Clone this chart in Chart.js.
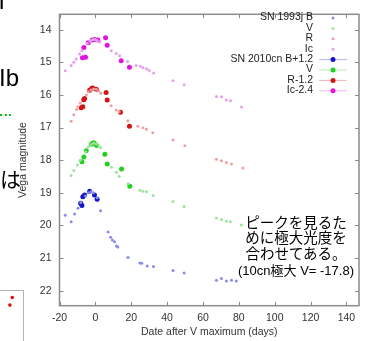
<!DOCTYPE html>
<html>
<head>
<meta charset="utf-8">
<script src="https://cdn.jsdelivr.net/npm/chart.js@4.4.1/dist/chart.umd.min.js"></script>
<style>
  html, body { margin: 0; padding: 0; background: #fff; }
  body { width: 370px; height: 341px; position: relative; overflow: hidden; font-family: "Liberation Sans", Arial, sans-serif; }
  #lc { position: absolute; left: 0; top: 0; }
  .frag { position: absolute; color: #000; white-space: nowrap; font-size: 24px; line-height: 24px; }
  #note { position: absolute; left: 236px; top: 213.5px; width: 120px; text-align: center; color: #000;
          font-family: "Noto Sans CJK JP", sans-serif; font-size: 14.5px; line-height: 15.8px; }
  #note .small { font-family: "Liberation Sans", "Noto Sans CJK JP", sans-serif; font-size: 13px; }
  #dots { position: absolute; left: 0; top: 114px; width: 11px; border-top: 2px dotted #10c010; }
  #inset { position: absolute; left: -1px; top: 290px; width: 23px; height: 60px; border: 1px solid #b4b4b4; }
</style>
</head>
<body>
<canvas id="lc" width="370" height="341"></canvas>
<div class="frag" style="left:-1px; top:-11px;">l</div>
<div class="frag" style="left:-1px; top:66px;">Ib</div>
<div id="dots"></div>
<div class="frag" style="left:0; top:168px; font-family:'Noto Sans CJK JP'; font-size:21px; line-height:21px;">は</div>
<div id="inset"><canvas id="mini" width="23" height="51"></canvas></div>
<div id="note">ピークを見るた<br>めに極大光度を<br>合わせてある。<br><span class="small">(10cn極大 V= -17.8)</span></div>
<script>
// SN 1993J (small pale points)
const b93Day = [-16.8, -13.5, -11.6, -9.7, -8.2, -5.5, -4, -2.5, -1, 1, 2.9, 7.1, 8.5, 9.5, 10.7, 11.8, 12.5, 18.2, 24.8, 25.9, 28.9, 32.4, 43.3, 49.5, 67.5, 70.3, 73.1, 75.9, 78.6];
const b93Mag = [19.69, 19.89, 19.65, 19.47, 19.3, 19.1, 19.0, 18.97, 19.0, 19.15, 19.55, 20.2, 20.36, 20.45, 20.5, 20.63, 20.66, 20.98, 21.15, 21.16, 21.24, 21.26, 21.38, 21.46, 21.68, 21.63, 21.7, 21.68, 21.7];
const v93Day = [-13.5, -12, -10, -8.5, -5.5, -4, -2.5, -1, 0.5, 2, 3, 9, 11.8, 13.3, 18.3, 24.8, 26.5, 28.5, 32.2, 43.3, 49.5, 67.5, 70.3, 73.1, 75.3, 81.4];
const v93Mag = [18.47, 18.32, 18.15, 18.0, 17.75, 17.6, 17.52, 17.48, 17.5, 17.56, 17.62, 18.22, 18.37, 18.5, 18.72, 18.92, 18.95, 18.97, 19.08, 19.27, 19.42, 19.77, 19.82, 19.87, 19.89, 19.99];
const r93Day = [-13.5, -12, -10.5, -9.7, -8.5, -5, -4, -2.5, -1, 0.5, 2, 3, 8.8, 11.6, 13.3, 18.1, 23.7, 26.5, 28.5, 32, 43.3, 49.9, 67.5, 70.3, 73.1, 75.9, 82.3];
const r93Mag = [16.81, 16.61, 16.45, 16.36, 16.25, 16.0, 15.9, 15.85, 15.82, 15.83, 15.88, 15.95, 16.33, 16.46, 16.52, 16.79, 16.96, 17.01, 17.05, 17.16, 17.38, 17.56, 17.97, 18.02, 18.07, 18.12, 18.24];
const i93Day = [-16.8, -13.5, -12, -10.7, -8.8, -7.5, -4.5, -3, -2, -1, 0, 1, 2.5, 8.8, 11.6, 13.5, 18, 22.7, 25, 26.5, 28.5, 30, 32.5, 43.3, 49.5, 67.5, 70.3, 73, 75.3, 81.5];
const i93Mag = [15.26, 15.1, 15.0, 14.9, 14.75, 14.65, 14.42, 14.35, 14.32, 14.3, 14.3, 14.33, 14.38, 14.65, 14.73, 14.8, 14.98, 15.1, 15.12, 15.17, 15.2, 15.25, 15.33, 15.57, 15.69, 16.05, 16.06, 16.16, 16.18, 16.37];

// SN 2010cn (shifted: B+1.2, V, R-1.2, Ic-2.4)
const cnBDay = [-8.2, -7.5, -7, -6, -3.2, -0.5, 1];
const cnBMag = [19.32, 19.39, 19.12, 19.07, 18.95, 19.07, 19.2];
const cnVDay = [-7.5, -6.4, -5.1, -2.3, -1.2, -0.4, 0.7, 5.3, 6.6, 14.6, 19.2];
const cnVMag = [18.05, 17.9, 17.71, 17.51, 17.47, 17.49, 17.55, 17.82, 18.12, 18.27, 18.8];
const cnRDay = [-7.9, -7, -6.5, -6, -3.2, -2, -1.4, 0.5, 6, 6.6, 14, 19];
const cnRMag = [16.39, 16.36, 16.15, 16.11, 15.86, 15.8, 15.79, 15.83, 15.93, 16.16, 16.53, 16.96];
const cnIDay = [-7.2, -5.5, -6.4, -4, -1.8, -0.3, 1.4, 5.7, 6.6, 14.4, 19];
const cnIMag = [14.86, 14.85, 14.55, 14.4, 14.32, 14.3, 14.32, 14.25, 14.48, 14.95, 15.15];

const xTicks = [-20, 0, 20, 40, 60, 80, 100, 120, 140];
const yTicks = [14, 15, 16, 17, 18, 19, 20, 21, 22];

// tiny inset fragment at bottom-left
const insetX = [12.7, 9];
const insetY = [3, 12];

const pts = (xs, ys) => xs.map((d, i) => ({ x: d, y: ys[i] }));
const font = { family: 'Liberation Sans', size: 10.5 };

function series(label, xs, ys, color, r, keyLine) {
  return {
    label: label,
    data: pts(xs, ys),
    showLine: false,
    backgroundColor: color,
    borderColor: color,
    borderWidth: 0,
    pointRadius: r,
    keyLine: keyLine
  };
}

// inward ticks and grey frame like gnuplot
const framePlugin = {
  id: 'frame',
  afterDatasetsDraw(chart) {
    const { ctx, chartArea: a, scales: { x, y } } = chart;
    ctx.save();
    ctx.strokeStyle = '#8a8a8a';
    ctx.lineWidth = 1;
    ctx.beginPath();
    xTicks.forEach(v => {
      const px = Math.round(x.getPixelForValue(v)) + 0.5;
      ctx.moveTo(px, a.bottom); ctx.lineTo(px, a.bottom - 4);
      ctx.moveTo(px, a.top); ctx.lineTo(px, a.top + 4);
    });
    yTicks.forEach(v => {
      const py = Math.round(y.getPixelForValue(v)) + 0.5;
      ctx.moveTo(a.left, py); ctx.lineTo(a.left + 4, py);
      ctx.moveTo(a.right, py); ctx.lineTo(a.right - 4, py);
    });
    ctx.stroke();
    ctx.lineWidth = 1.5;
    ctx.strokeStyle = '#8c8c8c';
    ctx.strokeRect(a.left, a.top, a.right - a.left, a.bottom - a.top);
    ctx.restore();
  }
};

// key in the top right, text right aligned, symbol after it
const keyPlugin = {
  id: 'key',
  afterDraw(chart) {
    const ctx = chart.ctx;
    ctx.save();
    ctx.font = '10.5px "Liberation Sans"';
    ctx.textAlign = 'right';
    ctx.textBaseline = 'middle';
    chart.data.datasets.forEach((ds, i) => {
      const yy = 17.5 + i * 10.4;
      ctx.fillStyle = '#222';
      ctx.fillText(ds.label, 313, yy);
      if (ds.keyLine) {
        ctx.strokeStyle = ds.keyLine;
        ctx.lineWidth = 1;
        ctx.beginPath();
        ctx.moveTo(319, yy + 0.5); ctx.lineTo(347, yy + 0.5);
        ctx.stroke();
      }
      ctx.fillStyle = ds.backgroundColor;
      ctx.beginPath();
      ctx.arc(333, yy + 0.5, ds.pointRadius, 0, Math.PI * 2);
      ctx.fill();
    });
    ctx.restore();
  }
};

const datasets = [
  series('SN 1993j B', b93Day, b93Mag, '#8c8ce6', 1.5),
  series('V', v93Day, v93Mag, '#a0e2a0', 1.5),
  series('R', r93Day, r93Mag, '#f0a0a0', 1.5),
  series('Ic', i93Day, i93Mag, '#e8a0e8', 1.5),
  series('SN 2010cn B+1.2', cnBDay, cnBMag, '#1414c8', 2.5, 'rgba(40,40,220,0.35)'),
  series('V', cnVDay, cnVMag, '#22d022', 2.5, 'rgba(40,210,40,0.35)'),
  series('R-1.2', cnRDay, cnRMag, '#d41414', 2.5, 'rgba(220,40,40,0.35)'),
  series('Ic-2.4', cnIDay, cnIMag, '#e014e0', 2.5, 'rgba(220,40,220,0.35)')
];

new Chart(document.getElementById('lc'), {
  type: 'scatter',
  data: { datasets: datasets },
  options: {
    responsive: false,
    animation: false,
    layout: { padding: { left: 0, right: 11, top: 9.5, bottom: 0 } },
    plugins: { legend: { display: false }, tooltip: { enabled: false } },
    scales: {
      x: {
        type: 'linear', min: -20, max: 147,
        afterBuildTicks: s => { s.ticks = xTicks.map(v => ({ value: v })); },
        afterFit: s => { s.height = 35.3; },
        grid: { display: false, drawTicks: false },
        border: { display: false },
        ticks: { padding: 6, color: '#333', font: font, maxRotation: 0, autoSkip: false },
        title: { display: true, text: 'Date after V maximum (days)', color: '#333', font: font, padding: { top: 0, bottom: 2.7 } }
      },
      y: {
        type: 'linear', reverse: true, min: 13.53, max: 22.46,
        afterBuildTicks: s => { s.ticks = yTicks.map(v => ({ value: v })); },
        afterFit: s => { s.width = 59.5; },
        grid: { display: false, drawTicks: false },
        border: { display: false },
        ticks: { padding: 8, color: '#333', font: font, autoSkip: false },
        title: { display: true, text: 'Vega magnitude', color: '#333', font: font, padding: { top: 16.5, bottom: 0 } }
      }
    }
  },
  plugins: [framePlugin, keyPlugin]
});

new Chart(document.getElementById('mini'), {
  type: 'scatter',
  data: { datasets: [{ data: pts(insetX, insetY), backgroundColor: '#e01010', borderWidth: 0, pointRadius: 1.8 }] },
  options: {
    responsive: false,
    animation: false,
    layout: { padding: 0 },
    plugins: { legend: { display: false }, tooltip: { enabled: false } },
    scales: {
      x: { display: false, min: 0, max: 23 },
      y: { display: false, reverse: true, min: 0, max: 51 }
    }
  }
});
</script>
</body>
</html>
